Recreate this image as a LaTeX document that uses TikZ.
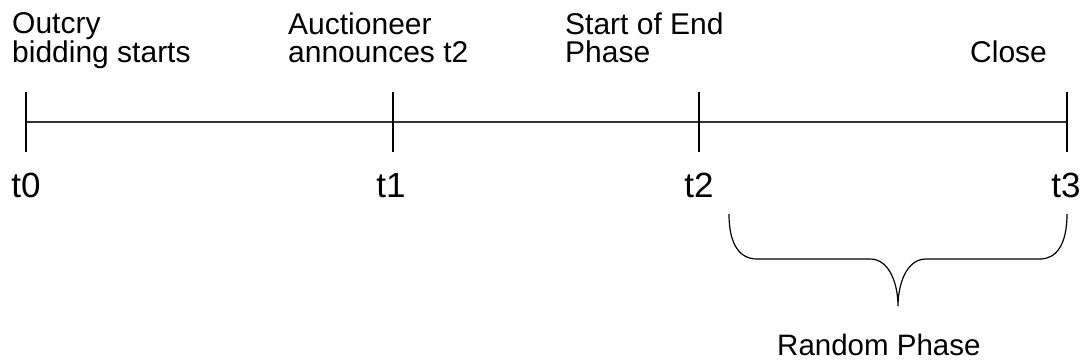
\documentclass[tikz,border=0pt]{standalone}
\usepackage{fontspec}
\setmainfont{Liberation Sans}
\begin{document}
\begin{tikzpicture}[x=1pt,y=-1pt,
  axis/.style={line width=1.4pt,draw=black!80},
  tickline/.style={line width=1.2pt,draw=black},
  bracepath/.style={line width=1.2pt,draw=black},
  toplabel/.style={anchor=base west,inner sep=0pt,align=left,font=\fontsize{30}{27.5}\selectfont},
  tlabel/.style={anchor=base,inner sep=0pt,font=\fontsize{35}{40}\selectfont}]
\useasboundingbox (0,0) rectangle (1087,364);
\coordinate (p0) at (26,122);
\coordinate (p1) at (393,122);
\coordinate (p2) at (699,122);
\coordinate (p3) at (1067,122);
\draw[axis] (p0) -- (p3);
\foreach \p in {p0,p1,p2,p3}{
  \draw[tickline] ([yshift=30pt]\p) -- ([yshift=-30pt]\p);
}
\node[tlabel] (l0) at (26,197) {t0};
\node[tlabel] (l1) at (391,197) {t1};
\node[tlabel] (l2) at (699,197) {t2};
\node[tlabel] (l3) at (1066,197) {t3};
\node[toplabel] (a0) at (12,62) {Outcry\\bidding starts};
\node[toplabel] (a1) at (288,62) {Auctioneer\\announces t2};
\node[toplabel] (a2) at (565,62) {Start of End\\Phase};
\node[toplabel] (a3) at (970,62) {Close};
\coordinate (bl) at (729,214);
\coordinate (br) at (1067,214);
\coordinate (tip) at (898,306);
\draw[bracepath] (bl) .. controls (729,245) and (740,259) .. (757,259)
  -- (870,259) .. controls (890,259) and (898,285) .. (tip)
  (tip) .. controls (898,285) and (906,259) .. (926,259)
  -- (1040,259) .. controls (1056,259) and (1067,245) .. (br);
\node[anchor=base west,inner sep=0pt,font=\fontsize{29.5}{30}\selectfont] (rp) at (777,355) {Random Phase};
\end{tikzpicture}
\end{document}
